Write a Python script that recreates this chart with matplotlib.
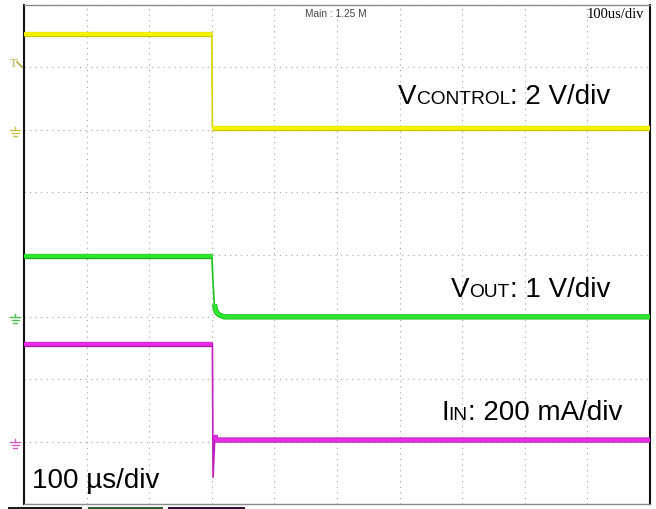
import matplotlib
matplotlib.use('Agg')
import matplotlib.pyplot as plt
from matplotlib.lines import Line2D
from matplotlib.patches import Rectangle
import numpy as np

W, H = 656, 509

# ---------------- data ----------------
time_per_div_us = 100

ctrl_time_us = [0, 300, 301, 1000]
ctrl_volts = [3.06, 3.06, 0.06, 0.06]
ctrl_scale = 2.0          # V/div
ctrl_ground_div = 2.0

vout_time_us = [0, 300, 302, 304, 307, 312, 320, 1000]
vout_volts = [0.98, 0.98, 0.55, 0.20, 0.08, 0.03, 0.0, 0.0]
vout_scale = 1.0          # V/div
vout_ground_div = -1.0

iin_time_us = [0, 301, 302, 305, 307, 1000]
iin_mA = [314, 314, -114, 20, 5, 5]
iin_scale = 200.0         # mA/div
iin_ground_div = -3.0

x_divs = list(range(0, 11))
y_divs = list(range(-4, 5))

# ---------------- figure ----------------
fig = plt.figure(figsize=(W / 100, H / 100), dpi=100)
fig.patch.set_facecolor('white')

left, right, top, bottom = 24, 650, 5, 504
ax = fig.add_axes([left / W, (H - bottom) / H, (right - left) / W, (bottom - top) / H])
ax.set_xlim(0, 10)
ax.set_ylim(-4, 4)
ax.set_xticks(x_divs)
ax.set_yticks(y_divs)
ax.tick_params(length=0, labelbottom=False, labelleft=False)
ax.grid(True, color='#a0a0a0', linestyle=(0, (1.0, 4.0)), lw=0.8, zorder=1)
ax.set_axisbelow(True)
for s in ['top', 'bottom']:
    ax.spines[s].set_color('#8a8a8a')
    ax.spines[s].set_linewidth(1.0)
for s in ['left', 'right']:
    ax.spines[s].set_color('#111111')
    ax.spines[s].set_linewidth(1.5)
    ax.spines[s].set_linestyle((0, (6, 1)))


def draw_trace(t, v, scale, offset, bright, dark, thin):
    x = np.asarray(t, dtype=float) / time_per_div_us
    y = np.asarray(v, dtype=float) / scale + offset
    ax.plot(x, y, color=thin, lw=1.2, zorder=3)
    groups = []
    cur = None
    for i in range(len(x) - 1):
        if abs(y[i + 1] - y[i]) < 0.2:
            if cur is None:
                cur = [i, i + 1]
            else:
                cur[1] = i + 1
        else:
            if cur is not None:
                groups.append(cur)
                cur = None
    if cur is not None:
        groups.append(cur)
    for a, b in groups:
        ax.plot(x[a:b + 1], y[a:b + 1], color=dark, lw=3.8,
                solid_capstyle='butt', zorder=4)
        ax.plot(x[a:b + 1], y[a:b + 1], color=bright, lw=2.6,
                solid_capstyle='butt', zorder=5)


draw_trace(ctrl_time_us, ctrl_volts, ctrl_scale, ctrl_ground_div,
           '#f4f400', '#cfc800', '#d8d400')
draw_trace(vout_time_us, vout_volts, vout_scale, vout_ground_div,
           '#2ee82e', '#18b418', '#20c020')
draw_trace(iin_time_us, iin_mA, iin_scale, iin_ground_div,
           '#ea2cea', '#ac1cac', '#c020c0')


# ---------------- pixel helpers ----------------
def fx(x):
    return x / W


def fy(y):
    return 1 - y / H


def pline(xs, ys, color, lw=1.0):
    fig.add_artist(Line2D([fx(v) for v in xs], [fy(v) for v in ys],
                          transform=fig.transFigure, color=color, lw=lw))


def ground_symbol(cx, cy, color):
    pline([cx, cx], [cy - 3, cy], color)
    pline([cx - 5, cx + 5], [cy, cy], color)
    pline([cx - 3.5, cx + 3.5], [cy + 3, cy + 3], color)
    pline([cx - 2, cx + 2], [cy + 6, cy + 6], color)


def ground_px(offset_div):
    return top + (4 - offset_div) * (bottom - top) / 8


ground_symbol(15, ground_px(ctrl_ground_div), '#c8c050')
ground_symbol(15, ground_px(vout_ground_div), '#50c050')
ground_symbol(15, ground_px(iin_ground_div), '#c860c8')

# trigger marker
fig.text(fx(10), fy(67), 'T', fontsize=9, color='#b8b040',
         family='Liberation Serif', ha='left', va='baseline')
pline([17, 22], [62, 67], '#b8b040', lw=1.3)

# bottom colour bars
for x0, x1, c in [(8, 82, '#1a1a1a'), (88, 163, '#2e5e2e'), (168, 245, '#321232')]:
    fig.add_artist(Rectangle((fx(x0), fy(509)), fx(x1 - x0), 2.2 / H,
                             transform=fig.transFigure, color=c, lw=0))

# ---------------- text ----------------
renderer = fig.canvas.get_renderer()


def rich_text(x_px, base_px, pieces, family='Liberation Sans', color='black'):
    x = x_px
    for s, size in pieces:
        t = fig.text(fx(x), fy(base_px), s, fontsize=size, family=family,
                     color=color, ha='left', va='baseline')
        bb = t.get_window_extent(renderer=renderer)
        x += bb.width


big, small = 20, 13.8
rich_text(398, 104, [('V', big), ('CONTROL', small), (': 2 V/div', big)])
rich_text(451, 297, [('V', big), ('OUT', small), (': 1 V/div', big)])
rich_text(441, 420, [('I', big), ('IN', small), (': 200 mA/div', big)])
rich_text(32, 488, [('100 µs/div', big)])

fig.text(fx(305), fy(17), 'Main : 1.25 M', fontsize=7.3, family='Liberation Sans',
         color='#444444', ha='left', va='baseline')
fig.text(fx(587), fy(18), '100us/div', fontsize=10.5, family='Liberation Serif',
         color='black', ha='left', va='baseline')

fig.savefig('out.png', dpi=100, facecolor='white')
